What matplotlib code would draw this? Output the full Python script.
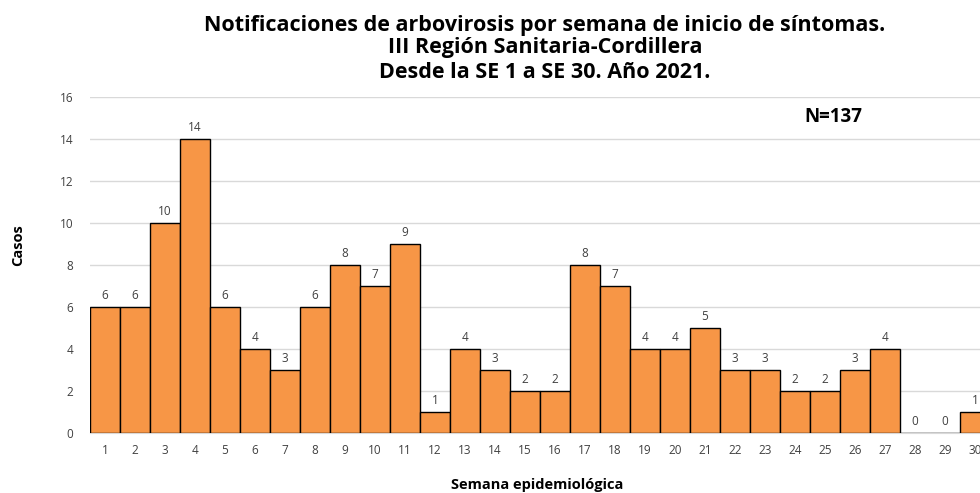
import matplotlib
matplotlib.use("Agg")
import matplotlib.pyplot as plt

# datos
semanas = list(range(1, 31))
casos = [6, 6, 10, 14, 6, 4, 3, 6, 8, 7, 9, 1, 4, 3, 2, 2, 8, 7, 4, 4,
         5, 3, 3, 2, 2, 3, 4, 0, 0, 1]
yticks = [0, 2, 4, 6, 8, 10, 12, 14, 16]

plt.rcParams['font.family'] = ['Open Sans', 'DejaVu Sans']

fig = plt.figure(figsize=(9.8, 4.93), dpi=100)
# the original is cropped on the right, so the axes runs past the figure edge
ax = fig.add_axes([90 / 980, 60 / 493, 900 / 980, 336 / 493])

ax.bar(semanas, casos, width=1.0, color='#F79646', edgecolor='black', linewidth=1.0, zorder=3)
for x, v in zip(semanas, casos):
    ax.text(x, v + 0.25, str(v), ha='center', va='bottom', fontsize=8.5, color='#404040')

ax.set_xlim(0.5, 30.5)
ax.set_ylim(0, 16)
ax.set_yticks(yticks)
ax.set_xticks(semanas)
ax.grid(axis='y', color='#D9D9D9', linewidth=1, zorder=0)
for s in ['top', 'right', 'left']:
    ax.spines[s].set_visible(False)
ax.spines['bottom'].set_color('#D9D9D9')
ax.tick_params(axis='both', length=0, labelsize=8.5, labelcolor='#404040')
ax.tick_params(axis='x', pad=8)
ax.tick_params(axis='y', pad=12)

fig.text(545 / 980, 1 - 25 / 493, 'Notificaciones de arbovirosis por semana de inicio de síntomas.',
         ha='center', va='center', fontsize=15.5, fontweight='bold')
fig.text(545 / 980, 1 - 48 / 493, 'III Región Sanitaria-Cordillera',
         ha='center', va='center', fontsize=15.5, fontweight='bold')
fig.text(545 / 980, 1 - 72 / 493, 'Desde la SE 1 a SE 30. Año 2021.',
         ha='center', va='center', fontsize=15.5, fontweight='bold')

fig.text(833 / 980, 1 - 117 / 493, 'N=137', ha='center', va='center', fontsize=13.5, fontweight='bold')
fig.text(18 / 980, 1 - 245 / 493, 'Casos', ha='center', va='center', rotation=90,
         fontsize=10.5, fontweight='bold')
fig.text(537 / 980, 1 - 485 / 493, 'Semana epidemiológica', ha='center', va='center',
         fontsize=10.5, fontweight='bold')

fig.savefig('out.png', dpi=100)
